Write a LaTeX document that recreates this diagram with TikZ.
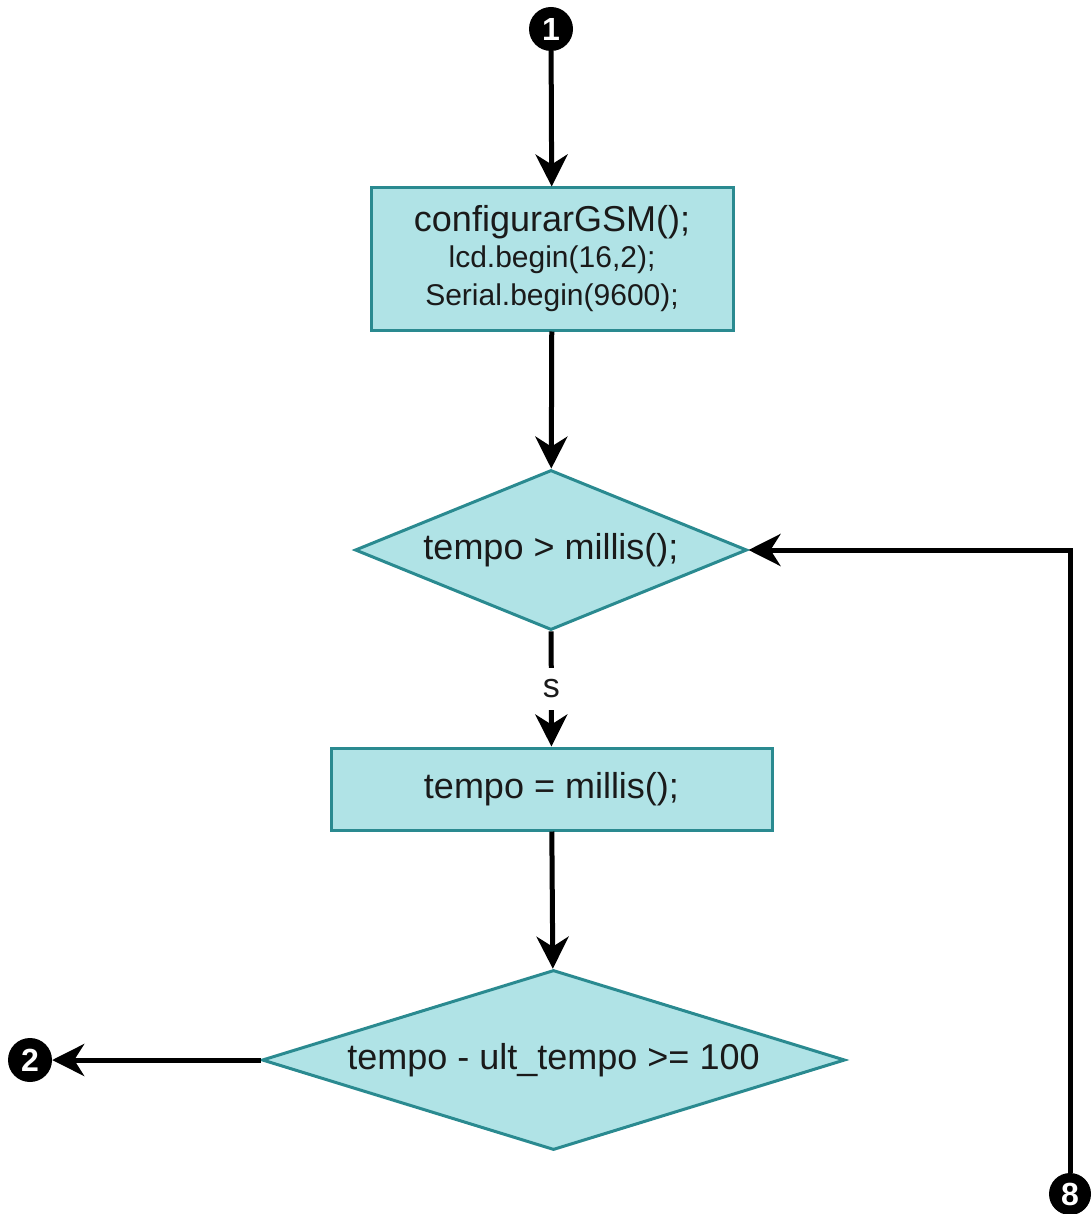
\documentclass[tikz,border=0pt]{standalone}
\usepackage{fontspec}
\setmainfont{Liberation Sans}
\usetikzlibrary{arrows.meta,shapes.geometric}
\definecolor{boxfill}{HTML}{B0E3E6}
\definecolor{boxline}{HTML}{2A8A90}
\definecolor{ink}{HTML}{1A1A1A}
\tikzset{
  procbox/.style={draw=boxline, fill=boxfill, line width=3pt, inner sep=0pt,
    align=center, text=ink, font=\fontsize{36}{40}\selectfont},
  decision/.style={diamond, draw=boxline, fill=boxfill, line width=3pt, inner sep=0pt,
    text=ink, font=\fontsize{36}{40}\selectfont},
  connector/.style={circle, fill=black, inner sep=0pt, minimum size=44pt,
    text=white, font=\bfseries\fontsize{32}{32}\selectfont},
  flow/.style={line width=5pt, -{Stealth[length=32pt,width=32pt,inset=10pt]}},
  edgelabel/.style={fill=white, inner xsep=4pt, inner ysep=12pt, text=ink,
    font=\fontsize{34}{34}\selectfont}
}
\begin{document}
\begin{tikzpicture}[x=1pt,y=-1pt]
  \useasboundingbox (0,0) rectangle (1091,1214);

  % off-page connectors
  \node[connector] (c1) at (551,29) {1};
  \node[connector] (c2) at (30,1060) {2};
  \node[connector, minimum size=42pt] (c8) at (1070,1194) {8};

  % process boxes and decisions
  \node[procbox, minimum width=362pt, minimum height=142pt] (init) at (552,259)
    {\raisebox{-4pt}{configurarGSM();}\\[0pt]
     {\fontsize{30}{36}\selectfont lcd.begin(16,2);}\\[-2pt]
     {\fontsize{30}{36}\selectfont Serial.begin(9600);}};
  \node[decision, aspect=2.45, minimum width=392pt, minimum height=160pt] (d1) at (551,550)
    {tempo > millis();};
  \node[procbox, minimum width=441pt, minimum height=82pt] (upd) at (551.5,789)
    {tempo = millis();};
  \node[decision, aspect=3.24, minimum width=583pt, minimum height=180pt] (d2) at (553.5,1060)
    {tempo - ult\_tempo >= 100};

  % connectors
  \draw[flow] (c1) -- (init);
  \draw[flow] (init) -- (d1);
  \draw[flow] (d1) -- node[edgelabel] {s} (upd);
  \draw[flow] (upd) -- (d2);
  \draw[flow] (d2.west) -- (c2);
  \draw[flow] (c8) |- (d1.east);
\end{tikzpicture}
\end{document}
